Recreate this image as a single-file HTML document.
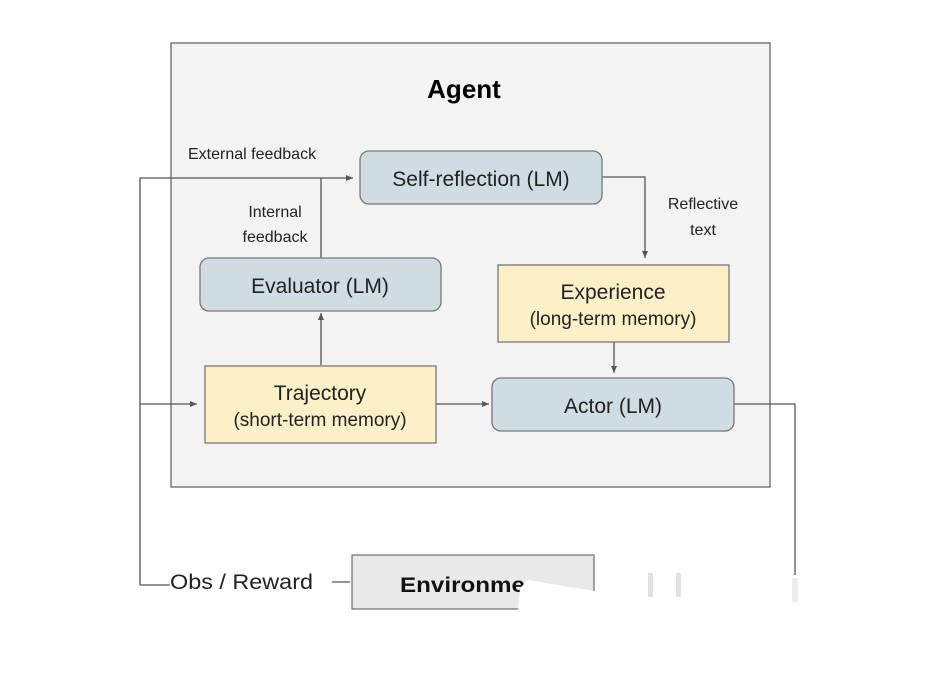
<!DOCTYPE html>
<html><head><style>
body{margin:0;background:#fff;}
svg{display:block;font-family:"Liberation Sans",Arial,sans-serif;}
</style></head><body>
<svg width="939" height="673" viewBox="0 0 939 673">
<defs><marker id="a" markerWidth="8" markerHeight="8" refX="7" refY="3" orient="auto" markerUnits="userSpaceOnUse"><path d="M0,0 L7,3 L0,6z" fill="#555"/></marker></defs>
<rect x="0" y="0" width="939" height="673" fill="#fff"/>
<rect x="171" y="43" width="599" height="444" fill="#f3f3f3" stroke="#666" stroke-width="1.3"/>
<text x="464" y="98" font-size="26" font-weight="bold" text-anchor="middle" fill="#000">Agent</text>
<g stroke="#555" stroke-width="1.3" fill="none">
<path d="M140,585 V178 H353" marker-end="url(#a)"/>
<path d="M321,258 V178"/>
<path d="M321,365 V313" marker-end="url(#a)"/>
<path d="M602,177 H645 V258" marker-end="url(#a)"/>
<path d="M614,342 V373" marker-end="url(#a)"/>
<path d="M140,404 H197" marker-end="url(#a)"/>
<path d="M436,404 H489" marker-end="url(#a)"/>
<path d="M734,404 H795 V575"/>
<path d="M140,585 H170"/>
<path d="M332,582 H350"/>
</g>
<rect x="360" y="151" width="242" height="53" rx="9" fill="#cfdde3" stroke="#777" stroke-width="1.3"/>
<text x="481" y="186" font-size="21" text-anchor="middle" fill="#222">Self-reflection (LM)</text>
<rect x="200" y="258" width="241" height="53" rx="9" fill="#cfdde3" stroke="#777" stroke-width="1.3"/>
<text x="320" y="293" font-size="21" text-anchor="middle" fill="#222">Evaluator (LM)</text>
<rect x="498" y="265" width="231" height="77" fill="#fdf0c8" stroke="#777" stroke-width="1.3"/>
<text x="613" y="299" font-size="21" text-anchor="middle" fill="#222">Experience</text>
<text x="613" y="325" font-size="19" text-anchor="middle" fill="#222">(long-term memory)</text>
<rect x="205" y="366" width="231" height="77" fill="#fdf0c8" stroke="#777" stroke-width="1.3"/>
<text x="320" y="400" font-size="21" text-anchor="middle" fill="#222">Trajectory</text>
<text x="320" y="426" font-size="19" text-anchor="middle" fill="#222">(short-term memory)</text>
<rect x="492" y="378" width="242" height="53" rx="9" fill="#cfdde3" stroke="#777" stroke-width="1.3"/>
<text x="613" y="413" font-size="21" text-anchor="middle" fill="#222">Actor (LM)</text>
<text x="188" y="159" font-size="16" fill="#222">External feedback</text>
<text x="275" y="217" font-size="16" text-anchor="middle" fill="#222">Internal</text>
<text x="275" y="242" font-size="16" text-anchor="middle" fill="#222">feedback</text>
<text x="703" y="209" font-size="16" text-anchor="middle" fill="#222">Reflective</text>
<text x="703" y="235" font-size="16" text-anchor="middle" fill="#222">text</text>
<text x="170" y="589" font-size="21" fill="#222" textLength="143" lengthAdjust="spacingAndGlyphs">Obs / Reward</text>
<rect x="352" y="555" width="242" height="54" fill="#e9e9e9" stroke="#777" stroke-width="1.3"/>
<text x="400" y="592" font-size="21" font-weight="bold" fill="#111" textLength="125" lengthAdjust="spacingAndGlyphs">Environme</text>
<path d="M520,588 L528,580 L600,592 L600,673 L545,673 L518,612 Z" fill="#fff"/>
<rect x="600" y="575" width="198" height="80" fill="#fff"/>
<rect x="648" y="573" width="5" height="24" fill="#e2e2e2"/>
<rect x="676" y="573" width="5" height="24" fill="#e2e2e2"/>
<rect x="792" y="578" width="6" height="24" fill="#eee"/>
</svg>
</body></html>
